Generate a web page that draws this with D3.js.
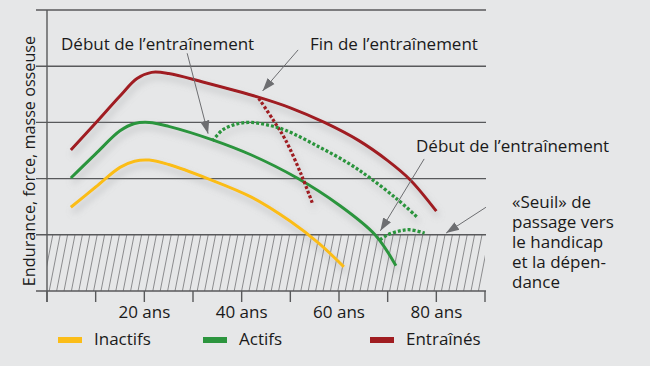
<!DOCTYPE html>
<html>
<head>
<meta charset="utf-8">
<script src="https://cdn.jsdelivr.net/npm/d3@7"></script>
<style>
  body { margin: 0; background: #e6e7e8; }
  svg { display: block; font-family: "Open Sans", "Noto Sans", sans-serif; }
</style>
</head>
<body>
<svg width="650" height="366"></svg>
<script>
// data: [age, level]
var inactifs = [[4.9,1.49],[10,1.85],[15,2.2],[18,2.31],[21,2.33],[25,2.25],[33,2.0],[42,1.67],[50,1.24],[56,0.84],[61,0.43]];
var actifs = [[4.9,2.01],[10,2.44],[15,2.85],[18,2.98],[21,3.0],[25,2.93],[34,2.69],[42,2.42],[51.4,2.01],[60,1.53],[67.4,1.0],[71.7,0.45]];
var entraines = [[4.9,2.51],[10,2.99],[15,3.47],[18.5,3.78],[21.5,3.89],[25,3.87],[32,3.72],[43.4,3.45],[50,3.26],[57,3.0],[64,2.68],[70,2.32],[74.6,1.98],[80,1.42]];
var finEntraines = [[43.5,3.43],[46.5,3.04],[49,2.69],[52.3,2.06],[54.5,1.57]];
var debutActifs = [[34,2.67],[36,2.86],[38.5,2.96],[41.5,3.0],[45,2.96],[49,2.86],[56,2.56],[62,2.27],[66.4,2.01],[72,1.63],[76,1.32]];
var debutTard = [[68.4,0.91],[70,1.0],[72.5,1.07],[74.6,1.09],[77.6,1.03]];

var ageTicks = d3.range(0, 100, 10);
var ageLabels = [20, 40, 60, 80];
var levels = [0, 1, 2, 3, 4, 5];

var legendNames = ["Inactifs", "Actifs", "Entraînés"];
var legendColors = ["#fbbd18", "#2c953e", "#a01d21"];

var svg = d3.select("svg");

var x = d3.scaleLinear().domain([0, 90]).range([47, 485]);
var y = d3.scaleLinear().domain([0, 5]).range([291, 10]);

var defs = svg.append("defs");
defs.append("filter")
    .attr("id", "shadow")
    .attr("x", "-20%").attr("y", "-20%")
    .attr("width", "140%").attr("height", "160%")
  .append("feDropShadow")
    .attr("dx", 2).attr("dy", 5)
    .attr("stdDeviation", 3.5)
    .attr("flood-color", "#8a8b8d")
    .attr("flood-opacity", 0.45);
defs.append("marker")
    .attr("id", "arrow")
    .attr("viewBox", "0 0 10 10")
    .attr("refX", 10).attr("refY", 5)
    .attr("markerWidth", 13).attr("markerHeight", 13)
    .attr("markerUnits", "userSpaceOnUse")
    .attr("orient", "auto")
  .append("path")
    .attr("d", "M0,1.5L10,5L0,8.5Z")
    .attr("fill", "#6d6e71");
defs.append("clipPath")
    .attr("id", "hatchclip")
  .append("rect")
    .attr("x", x(0)).attr("y", y(1))
    .attr("width", x(90) - x(0)).attr("height", y(0) - y(1));

// hatched zone
var hatch = svg.append("g").attr("clip-path", "url(#hatchclip)");
hatch.selectAll("line")
    .data(d3.range(x(0) - 20, x(90) + 10, 7.4))
  .enter().append("line")
    .attr("x1", function(d) { return d; })
    .attr("y1", y(0))
    .attr("x2", function(d) { return d + 11; })
    .attr("y2", y(1))
    .attr("stroke", "#737476")
    .attr("stroke-width", 0.8);

// grid
svg.append("g").selectAll("line")
    .data(levels)
  .enter().append("line")
    .attr("x1", x(0) - 11)
    .attr("x2", x(90) + 1)
    .attr("y1", function(d) { return y(d); })
    .attr("y2", function(d) { return y(d); })
    .attr("stroke", "#58595b")
    .attr("stroke-width", 1.4);

svg.append("line")
    .attr("x1", x(0)).attr("x2", x(0))
    .attr("y1", y(5)).attr("y2", y(0) + 11)
    .attr("stroke", "#58595b")
    .attr("stroke-width", 1.4);

svg.append("g").selectAll("line")
    .data(ageTicks)
  .enter().append("line")
    .attr("x1", function(d) { return x(d); })
    .attr("x2", function(d) { return x(d); })
    .attr("y1", y(0))
    .attr("y2", y(0) + 11)
    .attr("stroke", "#58595b")
    .attr("stroke-width", 1.4);

svg.append("g").selectAll("text")
    .data(ageLabels)
  .enter().append("text")
    .attr("x", function(d) { return x(d); })
    .attr("y", 318)
    .attr("text-anchor", "middle")
    .attr("font-size", 17)
    .attr("fill", "#1a1a1a")
    .text(function(d) { return d + " ans"; });

svg.append("text")
    .attr("transform", "translate(35," + 161 + ") rotate(-90)")
    .attr("text-anchor", "middle")
    .attr("font-size", 16.2)
    .attr("fill", "#1a1a1a")
    .text("Endurance, force, masse osseuse");

// curves
var line = d3.line()
    .x(function(d) { return x(d[0]); })
    .y(function(d) { return y(d[1]); })
    .curve(d3.curveCatmullRom.alpha(0.5));

var curves = [
  {data: inactifs, color: legendColors[0], dash: null},
  {data: actifs, color: legendColors[1], dash: null},
  {data: entraines, color: legendColors[2], dash: null},
  {data: finEntraines, color: legendColors[2], dash: "3,2"},
  {data: debutActifs, color: legendColors[1], dash: "3,2"},
  {data: debutTard, color: legendColors[1], dash: "3,2"}
];

svg.append("g")
    .attr("filter", "url(#shadow)")
  .selectAll("path")
    .data(curves)
  .enter().append("path")
    .attr("d", function(d) { return line(d.data); })
    .attr("fill", "none")
    .attr("stroke", function(d) { return d.color; })
    .attr("stroke-width", function(d) { return d.dash ? 3.3 : 3; })
    .attr("stroke-dasharray", function(d) { return d.dash; });

// annotations
var arrows = [
  [[28.8,4.23],[33.1,2.8]],
  [[51.6,4.29],[44.3,3.56]],
  [[77.5,2.35],[68.5,1.07]],
  [[90.2,1.49],[82,1.03]]
];

svg.append("g").selectAll("line")
    .data(arrows)
  .enter().append("line")
    .attr("x1", function(d) { return x(d[0][0]); })
    .attr("y1", function(d) { return y(d[0][1]); })
    .attr("x2", function(d) { return x(d[1][0]); })
    .attr("y2", function(d) { return y(d[1][1]); })
    .attr("stroke", "#6d6e71")
    .attr("stroke-width", 1)
    .attr("marker-end", "url(#arrow)");

var notes = [
  {x: 61, y: 50, text: "Début de l’entraînement"},
  {x: 310, y: 50, text: "Fin de l’entraînement"},
  {x: 416, y: 152, text: "Début de l’entraînement"}
];

svg.append("g").selectAll("text")
    .data(notes)
  .enter().append("text")
    .attr("x", function(d) { return d.x; })
    .attr("y", function(d) { return d.y; })
    .attr("font-size", 17)
    .attr("fill", "#1a1a1a")
    .text(function(d) { return d.text; });

var seuil = ["«Seuil» de", "passage vers", "le handicap", "et la dépen-", "dance"];
svg.append("g").selectAll("text")
    .data(seuil)
  .enter().append("text")
    .attr("x", 512)
    .attr("y", function(d, i) { return 208 + i * 20; })
    .attr("font-size", 17)
    .attr("fill", "#1a1a1a")
    .text(function(d) { return d; });

// legend
var legendX = [58, 203, 370];
var legend = svg.append("g").selectAll("g")
    .data(legendNames)
  .enter().append("g")
    .attr("transform", function(d, i) { return "translate(" + legendX[i] + ",337)"; });

legend.append("rect")
    .attr("width", 24)
    .attr("height", 6)
    .attr("fill", function(d, i) { return legendColors[i]; });

legend.append("text")
    .attr("x", 36)
    .attr("y", 8)
    .attr("font-size", 17)
    .attr("fill", "#1a1a1a")
    .text(function(d) { return d; });
</script>
</body>
</html>
